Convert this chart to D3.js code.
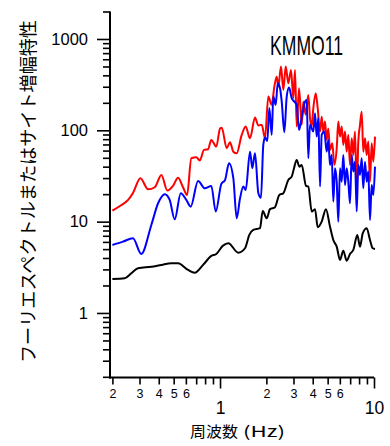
<!DOCTYPE html>
<html>
<head>
<meta charset="utf-8">
<script src="https://cdn.jsdelivr.net/npm/d3@7"></script>
<style>
  html, body { margin: 0; padding: 0; background: #fff; }
  svg { display: block; }
  .num { font-family: "Liberation Sans", Arial, sans-serif; fill: #000; }
  .jp { font-family: "Noto Sans CJK JP", sans-serif; fill: #000; }
</style>
</head>
<body>
<svg id="chart" width="390" height="446"></svg>
<script>
// Station name and axis text
const stationName = "KMMO11";
const xTitle = "周波数";
const xUnit = "(Hz)";
const yTitle = "フーリエスペクトルまたはサイト増幅特性";

// Axis ticks
const yMajorTicks = [1, 10, 100, 1000];
const yMinorTicks = [0.2,0.3,0.4,0.5,0.6,0.7,0.8,0.9,
                     2,3,4,5,6,7,8,9,
                     20,30,40,50,60,70,80,90,
                     200,300,400,500,600,700,800,900,2000];
const xMajorTicks = [1, 10];
const xMinorTicks = [0.2,0.3,0.4,0.5,0.6,0.7,0.8,0.9,2,3,4,5,6,7,8,9];
const xMinorLabeled = [0.2,0.3,0.4,0.5,0.6,2,3,4,5,6];

// Red curve
const freqRed = [0.2,0.229,0.253,0.272,0.304,0.341,0.377,0.416,0.455,0.495,0.534,0.575,0.611,0.651,0.702,0.738,0.787,0.836,0.878,0.946,1.0,1.026,1.105,1.161,1.22,1.283,1.383,1.468,1.566,1.687,1.774,1.866,1.959,2.059,2.166,2.253,2.334,2.391,2.489,2.577,2.671,2.777,2.891,2.992,3.069,3.148,3.26,3.393,3.475,3.602,3.744,3.84,3.94,4.036,4.182,4.309,4.461,4.575,4.686,4.806,4.93,5.049,5.179,5.361,5.524,5.726,5.865,6.016,6.17,6.319,6.482,6.648,6.809,6.985,7.165,7.339,7.527,7.722,7.907,8.112,8.32,8.521,8.741,8.966,9.183,9.42,9.66,9.9,10.15];
const ampRed = [13.2,15.2,17.3,20.6,29.9,22.6,23.8,32.5,21.9,24.6,30.3,23.8,19.6,49.5,50.7,46.6,61.0,62.1,78.5,66.3,105,107,63.7,74.1,58.4,56.1,89.1,110,81.9,138,113,115,81.9,234,190,301,387,301,499,277,499,328,459,225,459,110,289,115,206,148,244,136,110,175,255,175,96.8,141,96.8,125,78.5,105,61.0,72.2,41.8,63.7,125,85.3,110,69.2,96.8,58.4,89.1,41.8,81.9,53.8,96.8,21.3,75.2,115,160,58.4,81.9,53.8,75.2,27.4,72.2,45.4,85.3];

// Blue curve
const freqBlue = [0.2,0.234,0.272,0.308,0.358,0.396,0.438,0.471,0.508,0.556,0.604,0.645,0.72,0.796,0.878,0.938,1.02,1.078,1.144,1.22,1.283,1.349,1.417,1.468,1.566,1.621,1.687,1.774,1.845,1.91,1.959,2.028,2.09,2.166,2.219,2.3,2.37,2.453,2.516,2.616,2.711,2.806,2.921,3.038,3.148,3.26,3.307,3.423,3.564,3.656,3.744,3.84,4.036,4.139,4.246,4.348,4.461,4.575,4.756,4.93,5.049,5.179,5.313,5.442,5.582,5.726,5.865,6.016,6.17,6.319,6.482,6.648,6.809,6.985,7.165,7.339,7.527,7.722,7.907,8.112,8.32,8.521,8.741,8.966,9.183,9.42,9.66,9.9,10.15];
const ampBlue = [5.56,6.04,6.58,4.43,9.2,15.9,20.0,17.3,10.6,20.5,17.3,14.6,27.9,23.2,24.6,12.9,25.9,28.6,43.6,29.9,10.9,18.0,24.2,22.2,58.4,38.5,56.1,20.5,18.3,69.2,83.2,76.5,175,89.1,234,190,328,289,206,95.3,234,294,225,206,190,101,110,148,206,215,49.5,115,96.8,154,85.3,136,24.2,89.1,96.8,58.4,78.5,41.8,53.8,16.6,38.5,27.4,10.0,38.5,27.4,53.8,25.2,38.5,27.4,15.9,53.8,35.3,45.4,12.9,41.8,32.5,49.5,23.2,45.4,27.4,35.3,10.4,25.2,19.6,40.0];

// Black curve
const freqBlack = [0.2,0.2405,0.2655,0.2935,0.358,0.416,0.483,0.534,0.62,0.685,0.776,0.878,0.946,1.046,1.132,1.315,1.453,1.55,1.645,1.818,1.894,2.01,2.112,2.275,2.427,2.577,2.777,2.921,3.024,3.148,3.273,3.393,3.618,3.744,3.94,4.139,4.309,4.575,4.877,5.179,5.442,5.726,6.016,6.319,6.648,6.985,7.339,7.792,8.112,8.45,8.966,9.42,9.81,10.15];
const ampBlack = [2.36,2.40,2.72,3.09,3.21,3.36,3.50,3.50,2.96,2.76,3.36,4.21,4.43,5.46,5.80,4.57,5.11,7.15,8.11,8.47,13.1,10.9,13.7,14.4,19.6,20.5,28.6,31.1,38.5,47.4,40.0,41.8,24.6,24.2,12.9,13.7,8.68,10.0,13.7,8.81,6.30,5.32,3.81,4.81,3.74,4.43,4.90,7.15,5.32,7.46,8.47,6.30,5.11,5.02];

const svg = d3.select("#chart");

const axisX0 = 110;     // y-axis line position
const axisY0 = 377.5;   // x-axis line position

const x = d3.scaleLog().domain([0.2, 10]).range([112.4, 374]);
const y = d3.scaleLog().domain([0.2, 2000]).range([376.8, 11.5]);

// ---- y axis ----
const yMinor = svg.append("g")
  .attr("transform", `translate(${axisX0},0)`)
  .call(d3.axisLeft(y).tickValues(yMinorTicks).tickSize(7).tickFormat(""));
const yMajor = svg.append("g")
  .attr("transform", `translate(${axisX0},0)`)
  .call(d3.axisLeft(y).tickValues(yMajorTicks).tickSize(13).tickPadding(9)
        .tickFormat(d3.format("d")));
[yMinor, yMajor].forEach(g => {
  g.select(".domain").remove();
  g.selectAll(".tick line").attr("stroke", "#000").attr("stroke-width", 1.6);
});
yMajor.selectAll(".tick text")
  .attr("class", "num").attr("font-size", 16.5).attr("fill", "#000");

// ---- x axis ----
const xMinor = svg.append("g")
  .attr("transform", `translate(0,${axisY0})`)
  .call(d3.axisBottom(x).tickValues(xMinorTicks).tickSize(7).tickPadding(5)
        .tickFormat(d => xMinorLabeled.some(v => Math.abs(v - d) < 1e-9)
                          ? String(Math.round(d >= 1 ? d : d * 10)) : ""));
const xMajor = svg.append("g")
  .attr("transform", `translate(0,${axisY0})`)
  .call(d3.axisBottom(x).tickValues(xMajorTicks).tickSize(11).tickPadding(13.5)
        .tickFormat(d3.format("d")));
[xMinor, xMajor].forEach(g => {
  g.select(".domain").remove();
  g.selectAll(".tick line").attr("stroke", "#000").attr("stroke-width", 1.6);
});
xMinor.selectAll(".tick text")
  .attr("class", "num").attr("font-size", 12.5).attr("fill", "#000");
xMajor.selectAll(".tick text")
  .attr("class", "num").attr("font-size", 17.5).attr("fill", "#000");

// axis lines
svg.append("line")
  .attr("x1", axisX0).attr("x2", axisX0)
  .attr("y1", y(2000)).attr("y2", axisY0 + 1)
  .attr("stroke", "#000").attr("stroke-width", 2);
svg.append("line")
  .attr("x1", axisX0 - 1).attr("x2", x(10))
  .attr("y1", axisY0).attr("y2", axisY0)
  .attr("stroke", "#000").attr("stroke-width", 2);

// ---- curves ----
const line = d3.line()
  .x(d => x(d[0]))
  .y(d => y(d[1]))
  .curve(d3.curveMonotoneX);

const series = [
  { f: freqRed,   a: ampRed,   color: "#ff0000" },
  { f: freqBlue,  a: ampBlue,  color: "#0000ff" },
  { f: freqBlack, a: ampBlack, color: "#000000" }
];

series.forEach(s => {
  const pts = d3.zip(s.f, s.a);
  svg.append("path")
    .datum(pts)
    .attr("d", line)
    .attr("fill", "none")
    .attr("stroke", s.color)
    .attr("stroke-width", 2)
    .attr("stroke-linejoin", "round");
});

// ---- titles ----
svg.append("text")
  .attr("class", "num")
  .attr("x", 270).attr("y", 55)
  .attr("font-size", 28)
  .attr("textLength", 73)
  .attr("lengthAdjust", "spacingAndGlyphs")
  .text(stationName);

svg.append("text")
  .attr("class", "jp")
  .attr("x", 190).attr("y", 437)
  .attr("font-size", 15)
  .attr("textLength", 48)
  .attr("lengthAdjust", "spacingAndGlyphs")
  .text(xTitle);
svg.append("text")
  .attr("class", "jp")
  .attr("x", 243).attr("y", 437)
  .attr("font-size", 15)
  .attr("textLength", 42)
  .attr("lengthAdjust", "spacingAndGlyphs")
  .text(xUnit);

svg.append("text")
  .attr("class", "jp")
  .attr("transform", "translate(27,191.5) rotate(-90)")
  .attr("text-anchor", "middle")
  .attr("dominant-baseline", "central")
  .attr("font-size", 18)
  .attr("textLength", 343)
  .attr("lengthAdjust", "spacingAndGlyphs")
  .text(yTitle);
</script>
</body>
</html>
